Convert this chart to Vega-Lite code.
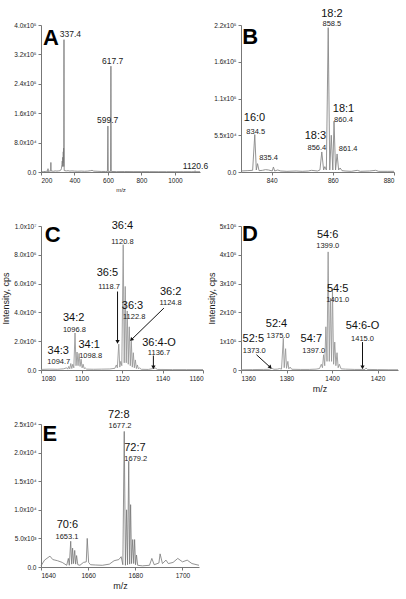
{
"$schema": "https://vega.github.io/schema/vega-lite/v6.json",
"padding": {"left": 1, "top": 8, "right": 0, "bottom": 0},
"background": "white",
"datasets": {
"spec": [
{"p":"A","mz":200,"i":0},{"p":"A","mz":215,"i":1000},{"p":"A","mz":228,"i":1500},{"p":"A","mz":236,"i":2500},{"p":"A","mz":240,"i":1500},{"p":"A","mz":242,"i":9000},{"p":"A","mz":243,"i":1500},{"p":"A","mz":250,"i":2500},{"p":"A","mz":256,"i":2000},{"p":"A","mz":258,"i":3000},{"p":"A","mz":259,"i":26000},{"p":"A","mz":260,"i":3000},{"p":"A","mz":266,"i":2500},{"p":"A","mz":275,"i":2000},{"p":"A","mz":285,"i":3000},{"p":"A","mz":295,"i":2500},{"p":"A","mz":305,"i":3000},{"p":"A","mz":313,"i":3500},{"p":"A","mz":318,"i":5000},{"p":"A","mz":322,"i":9000},{"p":"A","mz":325,"i":20000},{"p":"A","mz":327,"i":30000},{"p":"A","mz":329,"i":15000},{"p":"A","mz":330,"i":40000},{"p":"A","mz":332,"i":25000},{"p":"A","mz":333,"i":55000},{"p":"A","mz":334,"i":30000},{"p":"A","mz":335,"i":65000},{"p":"A","mz":336,"i":15000},{"p":"A","mz":337.4,"i":360000},{"p":"A","mz":338.6,"i":4000},{"p":"A","mz":343,"i":3500},{"p":"A","mz":352,"i":3000},{"p":"A","mz":362,"i":3500},{"p":"A","mz":372,"i":2500},{"p":"A","mz":385,"i":3000},{"p":"A","mz":400,"i":2500},{"p":"A","mz":420,"i":2000},{"p":"A","mz":440,"i":2500},{"p":"A","mz":460,"i":2000},{"p":"A","mz":480,"i":2500},{"p":"A","mz":495,"i":3500},{"p":"A","mz":505,"i":4500},{"p":"A","mz":515,"i":2500},{"p":"A","mz":535,"i":2000},{"p":"A","mz":560,"i":1500},{"p":"A","mz":585,"i":1500},{"p":"A","mz":597,"i":1500},{"p":"A","mz":599.7,"i":125000},{"p":"A","mz":602,"i":1500},{"p":"A","mz":615.5,"i":1500},{"p":"A","mz":617.7,"i":288000},{"p":"A","mz":620,"i":1500},{"p":"A","mz":650,"i":1000},{"p":"A","mz":700,"i":1200},{"p":"A","mz":750,"i":1000},{"p":"A","mz":800,"i":1000},{"p":"A","mz":850,"i":900},{"p":"A","mz":900,"i":800},{"p":"A","mz":950,"i":800},{"p":"A","mz":1000,"i":800},{"p":"A","mz":1050,"i":800},{"p":"A","mz":1100,"i":800},{"p":"A","mz":1118,"i":800},{"p":"A","mz":1120.6,"i":3500},{"p":"A","mz":1123,"i":800},{"p":"A","mz":1150,"i":800},

{"p":"B","mz":830,"i":1500},{"p":"B","mz":832,"i":2000},{"p":"B","mz":833.8,"i":2500},{"p":"B","mz":834.5,"i":56000},{"p":"B","mz":835,"i":3000},{"p":"B","mz":835.4,"i":12500},{"p":"B","mz":835.9,"i":2000},{"p":"B","mz":837,"i":2500},{"p":"B","mz":838,"i":3500},{"p":"B","mz":839,"i":3000},{"p":"B","mz":840.2,"i":1500},{"p":"B","mz":840.6,"i":7500},{"p":"B","mz":841,"i":1500},{"p":"B","mz":842,"i":3000},{"p":"B","mz":843,"i":1500},{"p":"B","mz":845,"i":1000},{"p":"B","mz":848,"i":1500},{"p":"B","mz":850,"i":1000},{"p":"B","mz":852,"i":1500},{"p":"B","mz":853,"i":2500},{"p":"B","mz":855,"i":1500},{"p":"B","mz":855.8,"i":3000},{"p":"B","mz":856.4,"i":30000},{"p":"B","mz":857,"i":3000},{"p":"B","mz":857.4,"i":8000},{"p":"B","mz":857.9,"i":3000},{"p":"B","mz":858.5,"i":216000},{"p":"B","mz":859,"i":3000},{"p":"B","mz":859.5,"i":55000},{"p":"B","mz":860,"i":3000},{"p":"B","mz":860.4,"i":76000},{"p":"B","mz":860.9,"i":3000},{"p":"B","mz":861.4,"i":27000},{"p":"B","mz":861.9,"i":3000},{"p":"B","mz":862.4,"i":6000},{"p":"B","mz":863,"i":2000},{"p":"B","mz":864,"i":1500},{"p":"B","mz":866,"i":1000},{"p":"B","mz":868,"i":2500},{"p":"B","mz":869,"i":1000},{"p":"B","mz":872,"i":1500},{"p":"B","mz":874,"i":2500},{"p":"B","mz":875,"i":1000},{"p":"B","mz":878,"i":1000},{"p":"B","mz":880,"i":1000},

{"p":"C","mz":1080,"i":40000},{"p":"C","mz":1084,"i":60000},{"p":"C","mz":1088,"i":50000},{"p":"C","mz":1091,"i":80000},{"p":"C","mz":1092.7,"i":150000},{"p":"C","mz":1093.2,"i":60000},{"p":"C","mz":1093.7,"i":250000},{"p":"C","mz":1094.2,"i":80000},{"p":"C","mz":1094.7,"i":450000},{"p":"C","mz":1095.2,"i":100000},{"p":"C","mz":1095.7,"i":400000},{"p":"C","mz":1096.2,"i":150000},{"p":"C","mz":1096.8,"i":2570000},{"p":"C","mz":1097.3,"i":300000},{"p":"C","mz":1097.8,"i":1250000},{"p":"C","mz":1098.3,"i":300000},{"p":"C","mz":1098.8,"i":1150000},{"p":"C","mz":1099.3,"i":250000},{"p":"C","mz":1099.8,"i":750000},{"p":"C","mz":1100.3,"i":150000},{"p":"C","mz":1100.8,"i":400000},{"p":"C","mz":1101.3,"i":100000},{"p":"C","mz":1101.8,"i":150000},{"p":"C","mz":1102.5,"i":60000},{"p":"C","mz":1106,"i":50000},{"p":"C","mz":1110,"i":60000},{"p":"C","mz":1114,"i":70000},{"p":"C","mz":1116.5,"i":120000},{"p":"C","mz":1117.2,"i":350000},{"p":"C","mz":1117.7,"i":150000},{"p":"C","mz":1118.4,"i":1800000},{"p":"C","mz":1118.9,"i":200000},{"p":"C","mz":1119.4,"i":600000},{"p":"C","mz":1119.9,"i":300000},{"p":"C","mz":1120.6,"i":8700000},{"p":"C","mz":1121.1,"i":500000},{"p":"C","mz":1121.6,"i":5800000},{"p":"C","mz":1122.1,"i":500000},{"p":"C","mz":1122.6,"i":4100000},{"p":"C","mz":1123.1,"i":400000},{"p":"C","mz":1123.6,"i":3000000},{"p":"C","mz":1124.1,"i":300000},{"p":"C","mz":1124.6,"i":2000000},{"p":"C","mz":1125.1,"i":200000},{"p":"C","mz":1125.6,"i":1200000},{"p":"C","mz":1126.1,"i":150000},{"p":"C","mz":1126.6,"i":700000},{"p":"C","mz":1127.1,"i":100000},{"p":"C","mz":1127.6,"i":350000},{"p":"C","mz":1128.1,"i":80000},{"p":"C","mz":1128.6,"i":150000},{"p":"C","mz":1129.5,"i":50000},{"p":"C","mz":1133,"i":40000},{"p":"C","mz":1136.5,"i":130000},{"p":"C","mz":1137.5,"i":40000},{"p":"C","mz":1145,"i":30000},{"p":"C","mz":1152,"i":30000},{"p":"C","mz":1160,"i":30000},

{"p":"D","mz":1360,"i":1000},{"p":"D","mz":1365,"i":1500},{"p":"D","mz":1370,"i":2000},{"p":"D","mz":1372.5,"i":2500},{"p":"D","mz":1373.5,"i":6000},{"p":"D","mz":1374.5,"i":2500},{"p":"D","mz":1376,"i":3000},{"p":"D","mz":1377,"i":5000},{"p":"D","mz":1377.8,"i":3000},{"p":"D","mz":1378.6,"i":110000},{"p":"D","mz":1379,"i":8000},{"p":"D","mz":1379.6,"i":74000},{"p":"D","mz":1380,"i":6000},{"p":"D","mz":1380.6,"i":30000},{"p":"D","mz":1381,"i":4000},{"p":"D","mz":1381.6,"i":10000},{"p":"D","mz":1382.3,"i":2500},{"p":"D","mz":1386,"i":2000},{"p":"D","mz":1390,"i":2000},{"p":"D","mz":1393,"i":3000},{"p":"D","mz":1394.5,"i":5000},{"p":"D","mz":1395.3,"i":20000},{"p":"D","mz":1395.8,"i":8000},{"p":"D","mz":1396.3,"i":53000},{"p":"D","mz":1396.8,"i":15000},{"p":"D","mz":1397.3,"i":150000},{"p":"D","mz":1397.8,"i":30000},{"p":"D","mz":1398.3,"i":410000},{"p":"D","mz":1398.8,"i":30000},{"p":"D","mz":1399.3,"i":250000},{"p":"D","mz":1399.8,"i":30000},{"p":"D","mz":1400.2,"i":280000},{"p":"D","mz":1400.7,"i":20000},{"p":"D","mz":1401.2,"i":97000},{"p":"D","mz":1401.7,"i":15000},{"p":"D","mz":1402.2,"i":60000},{"p":"D","mz":1402.7,"i":8000},{"p":"D","mz":1403.2,"i":20000},{"p":"D","mz":1404,"i":4000},{"p":"D","mz":1406,"i":3000},{"p":"D","mz":1410,"i":2000},{"p":"D","mz":1414.5,"i":2000},{"p":"D","mz":1415,"i":7000},{"p":"D","mz":1415.5,"i":2000},{"p":"D","mz":1420,"i":1500},{"p":"D","mz":1425,"i":1000},{"p":"D","mz":1429,"i":1000},

{"p":"E","mz":1640,"i":200},{"p":"E","mz":1641.5,"i":1200},{"p":"E","mz":1643.8,"i":1900},{"p":"E","mz":1645,"i":1300},{"p":"E","mz":1647,"i":1100},{"p":"E","mz":1649,"i":800},{"p":"E","mz":1650.9,"i":300},{"p":"E","mz":1651.6,"i":1500},{"p":"E","mz":1652,"i":300},{"p":"E","mz":1652.6,"i":4500},{"p":"E","mz":1653,"i":500},{"p":"E","mz":1653.4,"i":3300},{"p":"E","mz":1653.8,"i":600},{"p":"E","mz":1654.3,"i":2900},{"p":"E","mz":1654.7,"i":500},{"p":"E","mz":1655.1,"i":2000},{"p":"E","mz":1655.6,"i":400},{"p":"E","mz":1656.5,"i":300},{"p":"E","mz":1658,"i":800},{"p":"E","mz":1659.2,"i":900},{"p":"E","mz":1659.6,"i":5000},{"p":"E","mz":1660.2,"i":800},{"p":"E","mz":1661,"i":400},{"p":"E","mz":1663,"i":350},{"p":"E","mz":1666,"i":300},{"p":"E","mz":1669,"i":500},{"p":"E","mz":1671,"i":1100},{"p":"E","mz":1673,"i":1300},{"p":"E","mz":1674,"i":1800},{"p":"E","mz":1674.7,"i":400},{"p":"E","mz":1675.3,"i":23700},{"p":"E","mz":1675.8,"i":300},{"p":"E","mz":1676.3,"i":10000},{"p":"E","mz":1676.7,"i":400},{"p":"E","mz":1677.2,"i":18500},{"p":"E","mz":1677.6,"i":500},{"p":"E","mz":1678,"i":10900},{"p":"E","mz":1678.4,"i":600},{"p":"E","mz":1678.9,"i":4800},{"p":"E","mz":1679.3,"i":600},{"p":"E","mz":1679.7,"i":4800},{"p":"E","mz":1680.1,"i":400},{"p":"E","mz":1680.5,"i":2100},{"p":"E","mz":1681,"i":300},{"p":"E","mz":1683,"i":200},{"p":"E","mz":1686,"i":300},{"p":"E","mz":1687,"i":1500},{"p":"E","mz":1688,"i":400},{"p":"E","mz":1690,"i":700},{"p":"E","mz":1690.5,"i":2300},{"p":"E","mz":1691.5,"i":600},{"p":"E","mz":1693,"i":1200},{"p":"E","mz":1694,"i":600},{"p":"E","mz":1696,"i":800},{"p":"E","mz":1698,"i":1500},{"p":"E","mz":1700,"i":900},{"p":"E","mz":1702,"i":1200},{"p":"E","mz":1704,"i":600},{"p":"E","mz":1707,"i":300}
],
"lab": [
{"p":"A","k":"L","t":"A","mz":259,"i":364600},
{"p":"A","k":"n","t":"337.4","mz":376,"i":376000},
{"p":"A","k":"n","t":"617.7","mz":628,"i":302000},
{"p":"A","k":"n","t":"599.7","mz":598,"i":140700},
{"p":"A","k":"n","t":"1120.6","mz":1123,"i":16300},
{"p":"B","k":"L","t":"B","mz":833,"i":202000},
{"p":"B","k":"b","t":"18:2","mz":859.7,"i":236000},
{"p":"B","k":"b","t":"16:0","mz":834.4,"i":80500},
{"p":"B","k":"b","t":"18:3","mz":854.3,"i":54000},
{"p":"B","k":"b","t":"18:1","mz":863.5,"i":94000},
{"p":"B","k":"s","t":"858.5","mz":859.7,"i":221000},
{"p":"B","k":"s","t":"834.5","mz":834.8,"i":60500},
{"p":"B","k":"s","t":"835.4","mz":839,"i":21400},
{"p":"B","k":"s","t":"856.4","mz":854.8,"i":35500},
{"p":"B","k":"s","t":"860.4","mz":863.5,"i":78000},
{"p":"B","k":"s","t":"861.4","mz":865,"i":34900},
{"p":"C","k":"L","t":"C","mz":1085.8,"i":9400000},
{"p":"C","k":"b","t":"36:4","mz":1120.2,"i":10000000},
{"p":"C","k":"b","t":"36:5","mz":1112.8,"i":6750000},
{"p":"C","k":"b","t":"36:3","mz":1125.2,"i":4450000},
{"p":"C","k":"b","t":"36:2","mz":1144,"i":5450000},
{"p":"C","k":"b","t":"36:4-O","mz":1138.3,"i":1900000},
{"p":"C","k":"b","t":"34:2","mz":1096.1,"i":3600000},
{"p":"C","k":"b","t":"34:3","mz":1088.5,"i":1300000},
{"p":"C","k":"b","t":"34:1","mz":1103.8,"i":1750000},
{"p":"C","k":"s","t":"1120.8","mz":1120.2,"i":8900000},
{"p":"C","k":"s","t":"1118.7","mz":1113.6,"i":5780000},
{"p":"C","k":"s","t":"1122.8","mz":1126,"i":3700000},
{"p":"C","k":"s","t":"1124.8","mz":1144,"i":4620000},
{"p":"C","k":"s","t":"1136.7","mz":1138.3,"i":1180000},
{"p":"C","k":"s","t":"1096.8","mz":1096.5,"i":2800000},
{"p":"C","k":"s","t":"1094.7","mz":1088.8,"i":560000},
{"p":"C","k":"s","t":"1098.8","mz":1104.5,"i":960000},
{"p":"D","k":"L","t":"D","mz":1363.9,"i":473000},
{"p":"D","k":"b","t":"54:6","mz":1398.1,"i":468000},
{"p":"D","k":"b","t":"54:5","mz":1402.5,"i":280000},
{"p":"D","k":"b","t":"52:4","mz":1375.6,"i":158000},
{"p":"D","k":"b","t":"52:5","mz":1365.4,"i":106000},
{"p":"D","k":"b","t":"54:7","mz":1390.9,"i":106000},
{"p":"D","k":"b","t":"54:6-O","mz":1413.4,"i":152000},
{"p":"D","k":"s","t":"1399.0","mz":1398.1,"i":431000},
{"p":"D","k":"s","t":"1401.0","mz":1402.5,"i":243000},
{"p":"D","k":"s","t":"1375.0","mz":1376.3,"i":118000},
{"p":"D","k":"s","t":"1373.0","mz":1365.8,"i":66000},
{"p":"D","k":"s","t":"1397.0","mz":1392,"i":66000},
{"p":"D","k":"s","t":"1415.0","mz":1413.4,"i":109000},
{"p":"E","k":"L","t":"E","mz":1643.8,"i":23200},
{"p":"E","k":"b","t":"72:8","mz":1673,"i":26600},
{"p":"E","k":"b","t":"72:7","mz":1679.8,"i":20800},
{"p":"E","k":"b","t":"70:6","mz":1651.2,"i":7300},
{"p":"E","k":"s","t":"1677.2","mz":1673.5,"i":24700},
{"p":"E","k":"s","t":"1679.2","mz":1680.2,"i":18900},
{"p":"E","k":"s","t":"1653.1","mz":1651,"i":5200}
],
"arr": [
{"p":"C","d":"v","mz":1117.8,"i":5450000,"mz2":1117.8,"i2":1950000},
{"p":"C","d":"dl","mz":1140.7,"i":4300000,"mz2":1124.6,"i2":2100000},
{"p":"C","d":"v","mz":1135.5,"i":1000000,"mz2":1135.5,"i2":180000},
{"p":"D","d":"dr","mz":1366.8,"i":53000,"mz2":1372.9,"i2":9000},
{"p":"D","d":"v","mz":1413.4,"i":97000,"mz2":1413.4,"i2":9000}
]
},
"columns": 2,
"spacing": {"row": 54, "column": 38},
"bounds": "flush",
"concat": [
{
"width": 159, "height": 147,
"encoding": {
"x": {"field":"mz","type":"quantitative","scale":{"domain":[200,1150],"nice":false,"zero":false},"axis":{"values":[200,400,600,800,1000],"format":"d","title":"m/z","titleFontSize":6,"titlePadding":3}},
"y": {"field":"i","type":"quantitative","scale":{"domain":[0,400000],"nice":false},"axis":{"values":[0,80000,160000,240000,320000,400000],"labelExpr":"datum.value==0?'0.0':datum.value<100000?'8.0x10⁴':format(datum.value/100000,'.1f')+'x10⁵'","title":null}}
},
"layer": [
{"data":{"name":"spec"},"transform":[{"filter":"datum.p=='A'"}],"mark":{"type":"line","color":"#777","strokeWidth":0.8}},
{"data":{"name":"lab"},"transform":[{"filter":"datum.p=='A' && datum.k=='n'"}],"mark":{"type":"text","fontSize":8.5,"color":"#222"},"encoding":{"text":{"field":"t"}}},
{"data":{"name":"lab"},"transform":[{"filter":"datum.p=='A' && datum.k=='L'"}],"mark":{"type":"text","fontSize":22,"fontWeight":"bold","color":"#000"},"encoding":{"text":{"field":"t"}}}
]
},
{
"width": 153, "height": 147,
"encoding": {
"x": {"field":"mz","type":"quantitative","scale":{"domain":[830,880],"nice":false,"zero":false},"axis":{"values":[840,860,880],"format":"d","title":null}},
"y": {"field":"i","type":"quantitative","scale":{"domain":[0,220000],"nice":false},"axis":{"values":[0,55000,110000,165000,220000],"labelExpr":"datum.value==0?'0.0':datum.value<100000?'5.5x10⁴':datum.value==165000?'1.6x10⁵':format(datum.value/100000,'.1f')+'x10⁵'","title":null}}
},
"layer": [
{"data":{"name":"spec"},"transform":[{"filter":"datum.p=='B'"}],"mark":{"type":"line","color":"#888","strokeWidth":0.9}},
{"data":{"name":"lab"},"transform":[{"filter":"datum.p=='B' && datum.k=='b'"}],"mark":{"type":"text","fontSize":11,"color":"#111"},"encoding":{"text":{"field":"t"}}},
{"data":{"name":"lab"},"transform":[{"filter":"datum.p=='B' && datum.k=='s'"}],"mark":{"type":"text","fontSize":7.5,"color":"#222"},"encoding":{"text":{"field":"t"}}},
{"data":{"name":"lab"},"transform":[{"filter":"datum.p=='B' && datum.k=='L'"}],"mark":{"type":"text","fontSize":22,"fontWeight":"bold","color":"#000"},"encoding":{"text":{"field":"t"}}}
]
},
{
"width": 162, "height": 144,
"encoding": {
"x": {"field":"mz","type":"quantitative","scale":{"domain":[1080,1160],"nice":false,"zero":false},"axis":{"values":[1080,1100,1120,1140,1160],"format":"d","title":null}},
"y": {"field":"i","type":"quantitative","scale":{"domain":[0,10000000],"nice":false},"axis":{"values":[0,2000000,4000000,6000000,8000000,10000000],"labelExpr":"datum.value==0?'0.0':datum.value<10000000?format(datum.value/1000000,'.1f')+'x10⁶':'1.0x10⁷'","title":"Intensity, cps"}}
},
"layer": [
{"data":{"name":"spec"},"transform":[{"filter":"datum.p=='C'"}],"mark":{"type":"line","color":"#999","strokeWidth":0.9}},
{"data":{"name":"arr"},"transform":[{"filter":"datum.p=='C'"}],"mark":{"type":"rule","color":"#111","strokeWidth":1},"encoding":{"x2":{"field":"mz2"},"y2":{"field":"i2"}}},
{"data":{"name":"arr"},"transform":[{"filter":"datum.p=='C' && datum.d=='v'"}],"mark":{"type":"point","shape":"triangle-down","filled":true,"size":18,"color":"#111","opacity":1},"encoding":{"x":{"field":"mz2","type":"quantitative"},"y":{"field":"i2","type":"quantitative"}}},
{"data":{"name":"arr"},"transform":[{"filter":"datum.p=='C' && datum.d=='dl'"}],"mark":{"type":"point","shape":"triangle-down","filled":true,"size":18,"angle":45,"color":"#111","opacity":1},"encoding":{"x":{"field":"mz2","type":"quantitative"},"y":{"field":"i2","type":"quantitative"}}},
{"data":{"name":"lab"},"transform":[{"filter":"datum.p=='C' && datum.k=='b'"}],"mark":{"type":"text","fontSize":11,"color":"#111"},"encoding":{"text":{"field":"t"}}},
{"data":{"name":"lab"},"transform":[{"filter":"datum.p=='C' && datum.k=='s'"}],"mark":{"type":"text","fontSize":7.5,"color":"#222"},"encoding":{"text":{"field":"t"}}},
{"data":{"name":"lab"},"transform":[{"filter":"datum.p=='C' && datum.k=='L'"}],"mark":{"type":"text","fontSize":22,"fontWeight":"bold","color":"#000"},"encoding":{"text":{"field":"t"}}}
]
},
{
"width": 157, "height": 144,
"encoding": {
"x": {"field":"mz","type":"quantitative","scale":{"domain":[1360,1429],"nice":false,"zero":false},"axis":{"values":[1360,1380,1400,1420],"format":"d","title":"m/z","titleFontSize":9,"titlePadding":3}},
"y": {"field":"i","type":"quantitative","scale":{"domain":[0,500000],"nice":false},"axis":{"values":[0,100000,200000,300000,400000,500000],"labelExpr":"datum.value==0?'0':format(datum.value/100000,'d')+'x10⁵'","title":"Intensity, cps"}}
},
"layer": [
{"data":{"name":"spec"},"transform":[{"filter":"datum.p=='D'"}],"mark":{"type":"line","color":"#999","strokeWidth":0.9}},
{"data":{"name":"arr"},"transform":[{"filter":"datum.p=='D'"}],"mark":{"type":"rule","color":"#111","strokeWidth":1},"encoding":{"x2":{"field":"mz2"},"y2":{"field":"i2"}}},
{"data":{"name":"arr"},"transform":[{"filter":"datum.p=='D' && datum.d=='v'"}],"mark":{"type":"point","shape":"triangle-down","filled":true,"size":18,"color":"#111","opacity":1},"encoding":{"x":{"field":"mz2","type":"quantitative"},"y":{"field":"i2","type":"quantitative"}}},
{"data":{"name":"arr"},"transform":[{"filter":"datum.p=='D' && datum.d=='dr'"}],"mark":{"type":"point","shape":"triangle-down","filled":true,"size":18,"angle":-45,"color":"#111","opacity":1},"encoding":{"x":{"field":"mz2","type":"quantitative"},"y":{"field":"i2","type":"quantitative"}}},
{"data":{"name":"lab"},"transform":[{"filter":"datum.p=='D' && datum.k=='b'"}],"mark":{"type":"text","fontSize":11,"color":"#111"},"encoding":{"text":{"field":"t"}}},
{"data":{"name":"lab"},"transform":[{"filter":"datum.p=='D' && datum.k=='s'"}],"mark":{"type":"text","fontSize":7.5,"color":"#222"},"encoding":{"text":{"field":"t"}}},
{"data":{"name":"lab"},"transform":[{"filter":"datum.p=='D' && datum.k=='L'"}],"mark":{"type":"text","fontSize":22,"fontWeight":"bold","color":"#000"},"encoding":{"text":{"field":"t"}}}
]
},
{
"width": 158, "height": 143,
"encoding": {
"x": {"field":"mz","type":"quantitative","scale":{"domain":[1640,1707],"nice":false,"zero":false},"axis":{"values":[1640,1660,1680,1700],"format":"d","title":"m/z","titleFontSize":9,"titlePadding":3}},
"y": {"field":"i","type":"quantitative","scale":{"domain":[0,25000],"nice":false},"axis":{"values":[0,5000,10000,15000,20000,25000],"labelExpr":"datum.value==0?'0.0':datum.value<10000?'5.0x10³':format(datum.value/10000,'.1f')+'x10⁴'","title":null}}
},
"layer": [
{"data":{"name":"spec"},"transform":[{"filter":"datum.p=='E'"}],"mark":{"type":"line","color":"#777","strokeWidth":0.8}},
{"data":{"name":"lab"},"transform":[{"filter":"datum.p=='E' && datum.k=='b'"}],"mark":{"type":"text","fontSize":11,"color":"#111"},"encoding":{"text":{"field":"t"}}},
{"data":{"name":"lab"},"transform":[{"filter":"datum.p=='E' && datum.k=='s'"}],"mark":{"type":"text","fontSize":7.5,"color":"#222"},"encoding":{"text":{"field":"t"}}},
{"data":{"name":"lab"},"transform":[{"filter":"datum.p=='E' && datum.k=='L'"}],"mark":{"type":"text","fontSize":22,"fontWeight":"bold","color":"#000"},"encoding":{"text":{"field":"t"}}}
]
}
],
"config": {
"view": {"stroke": null},
"font": "Liberation Sans",
"axis": {"grid": false, "labelFontSize": 6.5, "labelColor": "#222", "domainColor": "#777", "tickColor": "#777", "tickSize": 3, "labelPadding": 2, "titleFontWeight": "normal", "titleFontSize": 9, "titleColor": "#222", "labelFont": "Liberation Sans", "titleFont": "Liberation Sans"},
"axisY": {"titlePadding": 3},
"text": {"font": "Liberation Sans"}
}
}
